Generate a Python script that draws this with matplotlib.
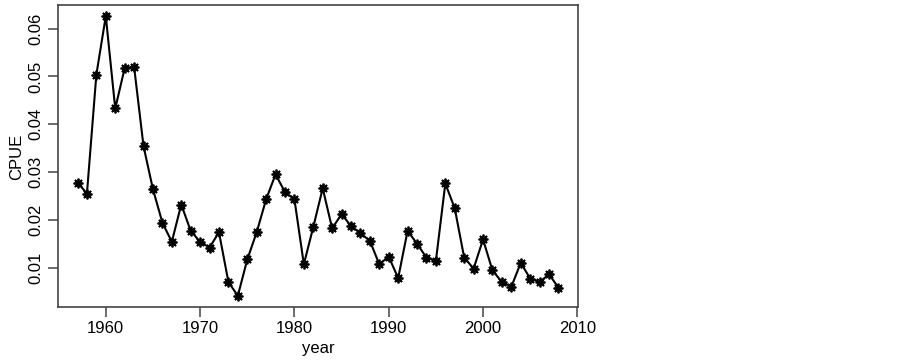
import matplotlib
matplotlib.use("Agg")
import matplotlib.pyplot as plt

plt.rcParams['font.family'] = ['Liberation Sans', 'DejaVu Sans']

years = list(range(1957, 2009))
cpue = [0.0278, 0.0255, 0.0504, 0.0626, 0.0433, 0.0517, 0.0520, 0.0354,
        0.0264, 0.0194, 0.0154, 0.0232, 0.0177, 0.0154, 0.0142, 0.0174,
        0.0070, 0.0041, 0.0117, 0.0174, 0.0243, 0.0295, 0.0258, 0.0243,
        0.0107, 0.0185, 0.0266, 0.0182, 0.0212, 0.0187, 0.0172, 0.0156,
        0.0107, 0.0123, 0.0078, 0.0177, 0.0150, 0.0121, 0.0114, 0.0276,
        0.0224, 0.0121, 0.0098, 0.0159, 0.0094, 0.0070, 0.0060, 0.0110,
        0.0077, 0.0070, 0.0086, 0.0058]
x_ticks = [1960, 1970, 1980, 1990, 2000, 2010]
y_ticks = [0.01, 0.02, 0.03, 0.04, 0.05, 0.06]

fig = plt.figure(figsize=(9.02, 3.62), dpi=100)
ax = fig.add_axes([0.0646, 0.1519, 0.5759, 0.8343])

# pch=8 style asterisk
ax.plot(years, cpue, color='black', lw=1.5, marker=(8, 2, 0),
        markersize=7, markeredgewidth=1.3, markeredgecolor='black')

# R-style 4% axis extension
xr = max(years) - min(years)
ax.set_xlim(min(years) - 0.04 * xr, max(years) + 0.04 * xr)
yr = max(cpue) - min(cpue)
ax.set_ylim(min(cpue) - 0.04 * yr, max(cpue) + 0.04 * yr)

ax.set_xticks(x_ticks)
ax.set_xticklabels([str(t) for t in x_ticks])
ax.set_yticks(y_ticks)
ax.set_yticklabels(['%.2f' % t for t in y_ticks], rotation=90, va='center')

ax.tick_params(axis='both', direction='out', length=7, width=1.1,
               color='#444444', labelsize=12)
ax.tick_params(axis='x', pad=3)
ax.tick_params(axis='y', pad=4)
for s in ax.spines.values():
    s.set_color('#444444')
    s.set_linewidth(1.2)

fig.text(318 / 902, 1 - 349 / 362, 'year', fontsize=12, ha='center', va='center')
fig.text(17 / 902, 1 - 157 / 362, 'CPUE', fontsize=12, ha='center', va='center',
         rotation=90)

fig.savefig('out.png', dpi=100)
